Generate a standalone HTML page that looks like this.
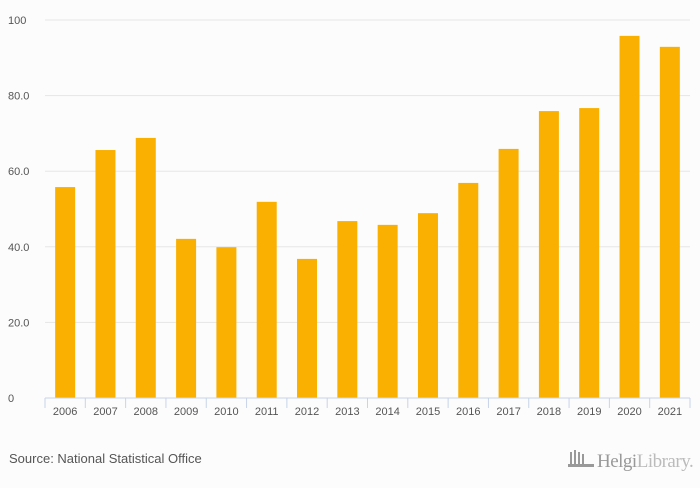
<!DOCTYPE html>
<html><head><meta charset="utf-8"><style>
body{margin:0;background:#fcfcfc;width:700px;height:483px;overflow:hidden;font-family:"Liberation Sans",sans-serif}
</style></head><body>
<svg width="700" height="483">
<g id="grid"></g><g id="bars"></g><g id="xaxis"></g>
<text x="9" y="463" font-size="13" fill="#555">Source: National Statistical Office</text>
<g>
<rect x="570" y="452" width="2" height="14" fill="#999"/><rect x="574" y="450" width="2" height="16" fill="#999"/><rect x="578" y="452" width="2" height="14" fill="#999"/><rect x="582" y="454" width="2" height="12" fill="#999"/><rect x="568" y="464" width="26" height="3" fill="#999"/>
<text x="597" y="467" font-size="19" fill="#999" font-family="Liberation Serif,serif" letter-spacing="-0.5">Helgi<tspan fill="#bbb">Library.</tspan></text>
</g>
</svg>
<script>
const categories=["2006","2007","2008","2009","2010","2011","2012","2013","2014","2015","2016","2017","2018","2019","2020","2021"];
const values=[55.8,65.6,68.8,42.1,39.9,51.9,36.8,46.8,45.8,48.9,56.9,65.9,75.9,76.7,95.8,92.9];
const yTicks=[0,20,40,60,80,100];
const yTickLabels=["0","20.0","40.0","60.0","80.0","100"];
const NS="http://www.w3.org/2000/svg";
const x0=45,x1=690,yTop=20,yBot=398;
const bw=(x1-x0)/categories.length;
const ys=v=>yBot-(v/100)*(yBot-yTop);
const xs=i=>x0+bw*i;
function mk(t,a,p){const e=document.createElementNS(NS,t);for(const k in a)e.setAttribute(k,a[k]);p.appendChild(e);return e;}
const g=document.getElementById('grid'),b=document.getElementById('bars'),xa=document.getElementById('xaxis');
yTicks.forEach((v,i)=>{
 if(v>0){const l=mk('line',{x1:x0,x2:x1,y1:ys(v),y2:ys(v),stroke:'#e6e6e6'},g);
 
 }
 const t=mk('text',{x:8,y:ys(v)+4,'font-size':11,fill:'#555'},g);t.textContent=yTickLabels[i];
 
 
});
values.forEach((v,i)=>{
 const r=mk('rect',{x:xs(i)+bw/2-10,y:ys(v),width:20,height:yBot-ys(v),fill:'#f9b000'},b);
 
 
});
const ax=mk('line',{x1:x0,x2:x1,y1:yBot,y2:yBot,stroke:'#c8d4e8'},xa);


categories.forEach((c,i)=>{
 const tk=mk('line',{x1:xs(i),x2:xs(i),y1:yBot,y2:yBot+10,stroke:'#c8d4e8'},xa);
 
 
 const t=mk('text',{x:xs(i)+bw/2,y:yBot+17,'font-size':11,fill:'#555','text-anchor':'middle'},xa);t.textContent=c;
 
 
});
const tk=mk('line',{x1:x1,x2:x1,y1:yBot,y2:yBot+10,stroke:'#c8d4e8'},xa);


</script>
</body></html>
